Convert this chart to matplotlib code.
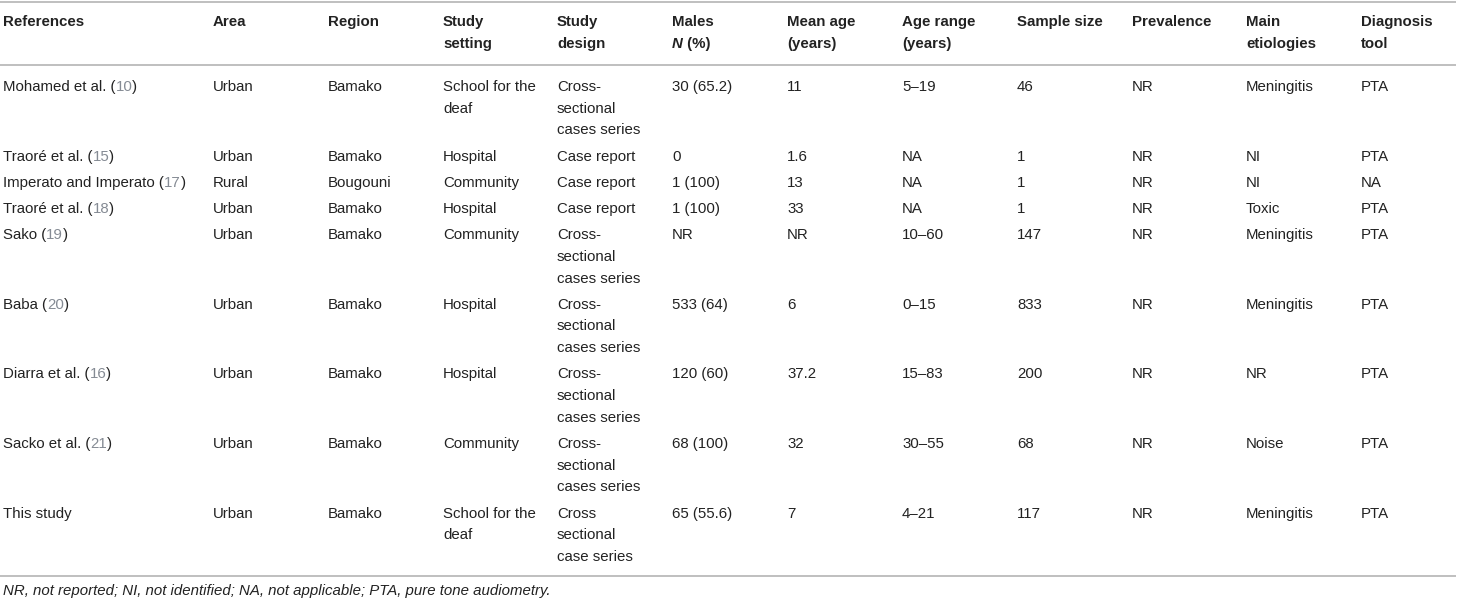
import matplotlib.pyplot as plt

plt.rcParams['font.family'] = ['Liberation Sans', 'DejaVu Sans']

HEADERS = ["References", "Area", "Region", "Study\nsetting", "Study\ndesign",
           "Males\n", "Mean age\n(years)", "Age range\n(years)",
           "Sample size", "Prevalence", "Main\netiologies", "Diagnosis\ntool"]

authors = ["Mohamed et al.", "Traoré et al.", "Imperato and Imperato", "Traoré et al.",
           "Sako", "Baba", "Diarra et al.", "Sacko et al.", "This study"]
ref_nums = ["10", "15", "17", "18", "19", "20", "16", "21", ""]
areas = ["Urban", "Urban", "Rural", "Urban", "Urban", "Urban", "Urban", "Urban", "Urban"]
regions = ["Bamako", "Bamako", "Bougouni", "Bamako", "Bamako", "Bamako", "Bamako",
           "Bamako", "Bamako"]
settings = ["School for the\ndeaf", "Hospital", "Community", "Hospital", "Community",
            "Hospital", "Hospital", "Community", "School for the\ndeaf"]
designs = ["Cross-\nsectional\ncases series", "Case report", "Case report", "Case report",
           "Cross-\nsectional\ncases series", "Cross-\nsectional\ncases series",
           "Cross-\nsectional\ncases series", "Cross-\nsectional\ncases series",
           "Cross\nsectional\ncase series"]
males = ["30 (65.2)", "0", "1 (100)", "1 (100)", "NR", "533 (64)", "120 (60)",
         "68 (100)", "65 (55.6)"]
mean_age = ["11", "1.6", "13", "33", "NR", "6", "37.2", "32", "7"]
age_range = ["5–19", "NA", "NA", "NA", "10–60", "0–15", "15–83", "30–55", "4–21"]
sample_size = ["46", "1", "1", "1", "147", "833", "200", "68", "117"]
prevalence = ["NR", "NR", "NR", "NR", "NR", "NR", "NR", "NR", "NR"]
etiologies = ["Meningitis", "NI", "NI", "Toxic", "Meningitis", "Meningitis", "NR",
              "Noise", "Meningitis"]
tools = ["PTA", "PTA", "NA", "PTA", "PTA", "PTA", "PTA", "PTA", "PTA"]

FOOTNOTE = "NR, not reported; NI, not identified; NA, not applicable; PTA, pure tone audiometry."

W, H = 1458, 602
COL_X = [3, 213, 328, 443, 557, 672, 787, 902, 1017, 1132, 1246, 1361]
LINE = 21.7
FS = 10.8
TXT = '#222222'
REF = '#858b94'
RULE = '#b4b4b4'

fig = plt.figure(figsize=(W / 100, H / 100), dpi=100)
ax = fig.add_axes([0, 0, 1, 1])
ax.set_xlim(0, W)
ax.set_ylim(H, 0)
ax.axis('off')


def cell(x, y, s, **kw):
    for k, line in enumerate(s.split('\n')):
        if line:
            ax.text(x, y + k * LINE, line, fontsize=FS, color=TXT, va='center', ha='left', **kw)


def chain(t, s, **kw):
    # put s right after text t, same baseline
    kw.setdefault('color', TXT)
    return ax.annotate(s, xy=(1, 0), xycoords=t, fontsize=FS, va='bottom', ha='left', **kw)


# rules
for y in (2, 65, 576):
    ax.plot([0, 1456], [y, y], color=RULE, lw=1.2, solid_capstyle='butt')

# header
for x, h in zip(COL_X, HEADERS):
    cell(x, 22, h, fontweight='bold')
t = ax.text(COL_X[5], 22 + LINE, "N", fontsize=FS, color=TXT, va='center', ha='left',
            fontweight='bold', style='italic')
chain(t, " (%)", fontweight='bold')

# body
columns = [areas, regions, settings, designs, males, mean_age, age_range,
           sample_size, prevalence, etiologies, tools]
y = 87
for i in range(len(authors)):
    if ref_nums[i]:
        t = ax.text(COL_X[0], y, authors[i] + " (", fontsize=FS, color=TXT,
                    va='center', ha='left')
        t = chain(t, ref_nums[i], color=REF)
        chain(t, ")")
    else:
        cell(COL_X[0], y, authors[i])
    nlines = 1
    for x, col in zip(COL_X[1:], columns):
        cell(x, y, col[i])
        nlines = max(nlines, col[i].count('\n') + 1)
    y += nlines * LINE + 4.5

ax.text(3, 591, FOOTNOTE, fontsize=FS, color=TXT, style='italic', va='center', ha='left')

fig.savefig('out.png', dpi=100)
